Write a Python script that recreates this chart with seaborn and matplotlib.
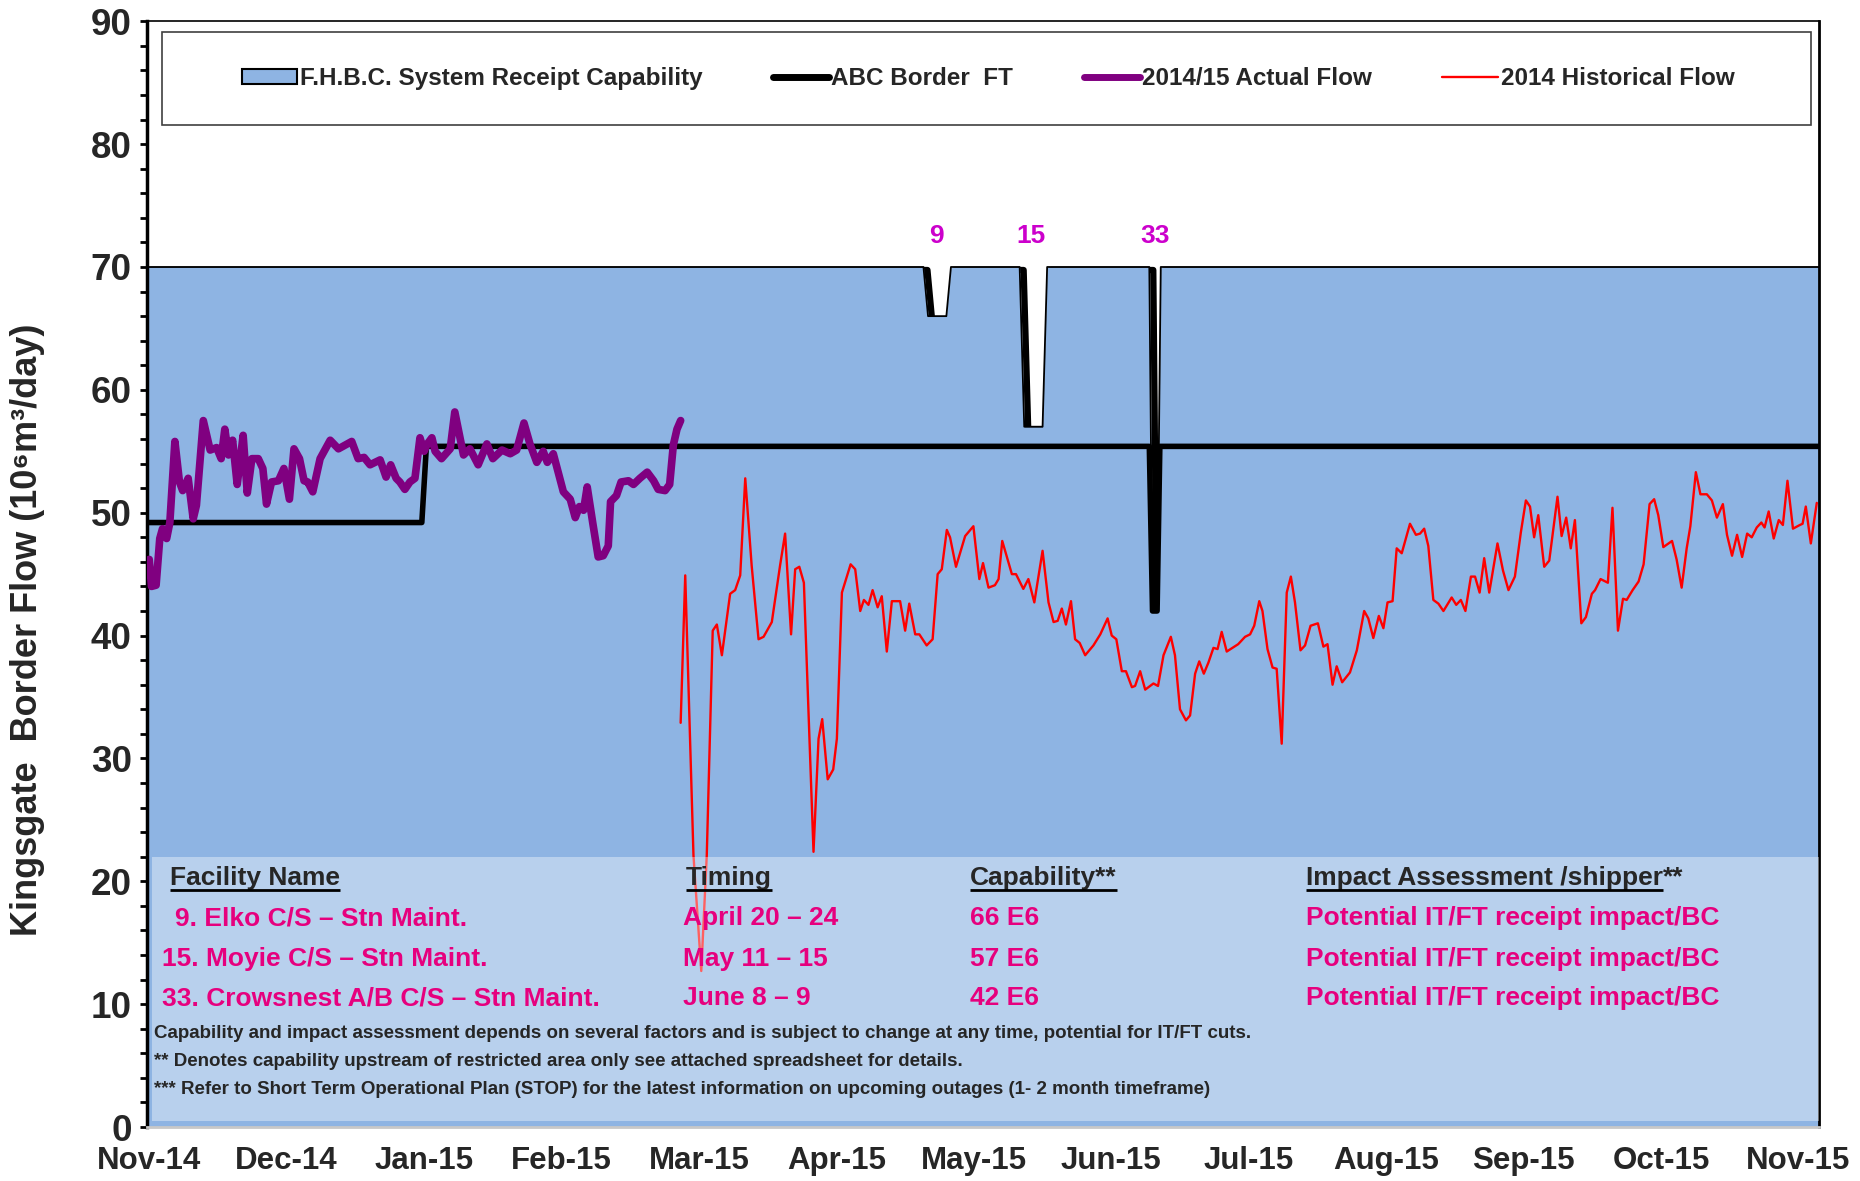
import matplotlib
matplotlib.use('Agg')
import matplotlib.pyplot as plt
from matplotlib.lines import Line2D
from matplotlib.patches import Patch, Rectangle
from matplotlib.transforms import offset_copy
import seaborn as sns

# x axis = days since 1 Nov 2014, tick every 30 days
tick_days = [0, 30, 60, 90, 120, 150, 180, 210, 240, 270, 300, 330, 360]
month_labels = ['Nov-14', 'Dec-14', 'Jan-15', 'Feb-15', 'Mar-15', 'Apr-15', 'May-15',
                'Jun-15', 'Jul-15', 'Aug-15', 'Sep-15', 'Oct-15', 'Nov-15']

# F.H.B.C. system receipt capability (70 with outage dips 9, 15, 33)
cap_days = [-0.5, 169, 170, 174, 175, 190, 191, 195, 196, 218.3, 219, 220, 220.8, 364.5]
cap_values = [70, 70, 66, 66, 70, 70, 57, 57, 70, 70, 42, 42, 70, 70]

# ABC Border FT
ft_days = [-0.5, 59.5, 60.5, 218.3, 219.0, 220.0, 220.6, 364.5]
ft_values = [49.2, 49.2, 55.4, 55.4, 42.0, 42.0, 55.4, 55.4]

# 2014/15 actual flow
actual_days = [0, 0.5, 1.5, 2.3, 2.9, 3.8, 4.5, 5.6, 6.6, 7.3, 8.5, 9.6, 10.3, 11.8, 13.3,
               14.7, 15.7, 16.5, 17.3, 18.2, 19.2, 19.8, 20.5, 21.4, 22.4, 23.8, 24.8, 25.6,
               26.7, 28.2, 29.4, 30.6, 31.6, 32.8, 33.8, 34.6, 35.7, 37.3, 39.5, 41.3, 44.2,
               45.6, 46.9, 48.2, 50.4, 51.7, 52.7, 53.9, 54.7, 55.8, 56.9, 58.0, 59.1, 60.0,
               60.7, 61.7, 62.4, 63.8, 65.7, 66.7, 68.6, 70.0, 71.8, 73.7, 75.0, 77.0, 78.8,
               80.2, 81.8, 83.1, 84.6, 86.0, 86.9, 88.2, 90.4, 91.9, 93.0, 93.9, 94.8, 95.6,
               96.8, 98.0, 99.1, 100.2, 100.7, 102.0, 103.0, 104.6, 105.7, 107.1, 108.7,
               110.1, 111.1, 112.6, 113.6, 114.4, 115.2, 116.0]
actual_flow = [46.2, 44.0, 44.1, 47.9, 48.7, 47.9, 49.2, 55.8, 52.5, 51.8, 52.8, 49.5, 50.6,
               57.5, 55.1, 55.3, 54.4, 56.8, 54.7, 55.9, 52.3, 54.1, 56.3, 51.6, 54.4, 54.4,
               53.6, 50.7, 52.5, 52.6, 53.6, 51.1, 55.2, 54.4, 52.6, 52.5, 51.7, 54.4, 55.9,
               55.2, 55.8, 54.4, 54.5, 53.9, 54.3, 52.9, 53.9, 52.8, 52.5, 51.9, 52.5, 52.8,
               56.1, 55.0, 55.6, 56.1, 55.0, 54.4, 55.2, 58.2, 54.7, 55.2, 53.9, 55.6, 54.4,
               55.1, 54.8, 55.1, 57.3, 55.6, 54.1, 55.0, 54.1, 54.8, 51.7, 51.1, 49.6, 50.5,
               50.2, 52.1, 49.2, 46.4, 46.5, 47.3, 50.9, 51.4, 52.5, 52.6, 52.3, 52.8, 53.3,
               52.6, 51.9, 51.8, 52.3, 55.5, 56.8, 57.5]

# 2014 historical flow
hist_days = [116.0, 117.0, 118.8, 120.5, 121.7, 123.0, 123.9, 125.0, 126.8, 127.9, 129.0,
             130.1, 131.5, 133.0, 134.1, 135.9, 137.7, 138.8, 140.1, 141.0, 141.9, 142.9,
             144.0, 145.0, 146.1, 146.9, 148.1, 149.3, 150.1, 151.2, 153.1, 154.1, 155.2,
             156.0, 157.0, 157.9, 159.0, 159.9, 161.0, 162.1, 163.9, 165.0, 165.9, 167.2,
             168.1, 169.7, 171.0, 172.1, 173.0, 174.1, 174.8, 176.1, 178.1, 179.9, 181.2,
             182.0, 183.2, 184.6, 185.4, 186.2, 188.3, 189.2, 190.8, 191.9, 193.2, 195.0,
             196.3, 197.4, 198.3, 199.2, 200.1, 201.2, 202.1, 203.1, 204.3, 206.1, 207.6,
             209.2, 210.1, 211.1, 212.3, 213.2, 214.5, 215.2, 216.3, 217.4, 219.2, 220.2,
             221.4, 223.0, 223.9, 225.0, 226.3, 227.2, 228.3, 229.2, 230.2, 231.2, 232.3,
             233.2, 234.1, 235.2, 237.7, 239.2, 240.3, 241.2, 242.3, 243.0, 244.1, 245.2,
             246.1, 247.2, 248.3, 249.2, 250.1, 251.3, 252.3, 253.5, 255.1, 256.3, 257.2,
             258.3, 259.2, 260.4, 262.1, 263.6, 265.2, 266.1, 267.2, 268.4, 269.4, 270.3,
             271.4, 272.3, 273.4, 275.2, 276.5, 277.4, 278.3, 279.2, 280.3, 281.4, 282.5,
             284.3, 285.3, 286.3, 287.3, 288.5, 289.4, 290.4, 291.4, 292.5, 294.3, 295.5,
             296.7, 298.1, 299.4, 300.5, 301.4, 302.3, 303.2, 304.5, 305.6, 307.4, 308.3,
             309.3, 310.3, 311.2, 312.6, 313.6, 314.9, 315.6, 316.8, 318.4, 319.4, 320.6,
             321.7, 322.5, 323.8, 325.1, 326.2, 327.5, 328.5, 329.4, 330.5, 332.4, 333.4,
             334.5, 335.6, 336.4, 337.6, 338.6, 340.0, 341.1, 342.2, 343.5, 344.4, 345.5,
             346.6, 347.7, 348.8, 349.8, 350.9, 351.9, 352.6, 353.5, 354.6, 355.7, 356.6,
             357.6, 358.8, 360.3, 360.9, 361.6, 362.7, 364.0]
hist_flow = [32.9, 44.9, 22.1, 12.7, 22.1, 40.4, 40.9, 38.4, 43.4, 43.7, 44.9, 52.8, 45.7,
             39.7, 39.9, 41.1, 45.7, 48.3, 40.1, 45.4, 45.6, 44.3, 32.9, 22.4, 31.6, 33.2,
             28.3, 29.1, 31.6, 43.5, 45.8, 45.4, 42.0, 42.9, 42.5, 43.7, 42.3, 43.2, 38.7,
             42.8, 42.8, 40.4, 42.6, 40.1, 40.1, 39.2, 39.7, 45.0, 45.4, 48.6, 48.0, 45.6,
             48.1, 48.9, 44.6, 45.9, 43.9, 44.1, 44.6, 47.7, 45.0, 45.0, 43.8, 44.6, 42.7,
             46.9, 42.7, 41.1, 41.2, 42.2, 40.9, 42.8, 39.7, 39.4, 38.4, 39.2, 40.1, 41.4,
             40.0, 39.7, 37.1, 37.1, 35.8, 35.9, 37.1, 35.6, 36.1, 35.9, 38.4, 39.9, 38.4,
             34.0, 33.1, 33.5, 36.9, 37.9, 36.9, 37.8, 39.0, 38.9, 40.3, 38.7, 39.3, 39.9,
             40.1, 40.8, 42.8, 42.0, 38.9, 37.4, 37.3, 31.2, 43.5, 44.8, 42.7, 38.8, 39.2,
             40.8, 41.0, 39.1, 39.3, 36.0, 37.5, 36.2, 37.0, 38.8, 42.0, 41.4, 39.8, 41.6,
             40.6, 42.7, 42.8, 47.1, 46.7, 49.1, 48.2, 48.3, 48.7, 47.3, 42.9, 42.6, 42.0,
             43.1, 42.5, 42.9, 42.0, 44.8, 44.8, 43.5, 46.3, 43.5, 47.5, 45.3, 43.7, 44.8,
             48.4, 51.0, 50.5, 48.0, 49.8, 45.6, 46.1, 51.3, 48.1, 49.6, 47.1, 49.4, 41.0,
             41.5, 43.4, 43.7, 44.6, 44.3, 50.4, 40.4, 43.0, 42.9, 43.7, 44.4, 45.8, 50.7,
             51.1, 49.8, 47.2, 47.7, 46.2, 43.9, 47.1, 48.9, 53.3, 51.5, 51.5, 51.0, 49.6,
             50.7, 48.2, 46.5, 48.2, 46.4, 48.3, 48.0, 48.8, 49.2, 48.8, 50.1, 47.9, 49.4,
             49.0, 52.6, 48.7, 49.0, 49.1, 50.5, 47.5, 50.8]

# outage table
outage_ids = ['9', '15', '33']
outage_label_days = [171.9, 192.4, 219.6]
facility_names = ['9. Elko C/S \u2013 Stn Maint.', '15. Moyie C/S \u2013 Stn Maint.',
                  '33. Crowsnest A/B C/S \u2013 Stn Maint.']
timings = ['April 20 \u2013 24', 'May 11 \u2013 15', 'June 8 \u2013 9']
capabilities = ['66 E6', '57 E6', '42 E6']
impacts = ['Potential IT/FT receipt impact/BC'] * 3
footnotes = ['Capability and impact assessment depends on several factors and is subject to '
             'change at any time, potential for IT/FT cuts.',
             '** Denotes capability upstream of restricted area only see attached spreadsheet '
             'for details.',
             '*** Refer to Short Term Operational Plan (STOP) for the latest information on '
             'upcoming outages (1- 2 month timeframe)']

BLUE = '#8EB4E3'
PINK = '#E6007E'
LABEL_PURPLE = '#CC00CC'

sns.set_theme(style='white')
plt.rcParams['font.family'] = ['Liberation Sans', 'DejaVu Sans']
plt.rcParams['font.weight'] = 'bold'

fig, ax = plt.subplots(figsize=(18.6, 11.81), dpi=100)
fig.subplots_adjust(left=0.079, right=0.978, top=0.982, bottom=0.0457)

# capability area with a shadow line on the left walls of the dips
sns.lineplot(x=cap_days, y=cap_values, color='black', linewidth=4.5, ax=ax, zorder=0.8)
ax.lines[-1].set_transform(offset_copy(ax.transData, fig=fig, x=4, y=-3, units='dots'))
ax.fill_between(cap_days, 0, cap_values, color=BLUE, linewidth=0, zorder=1)
sns.lineplot(x=cap_days, y=cap_values, color='black', linewidth=1.3, ax=ax, zorder=1.2)

sns.lineplot(x=hist_days, y=hist_flow, color='red', linewidth=1.7, ax=ax, zorder=2.2)
sns.lineplot(x=ft_days, y=ft_values, color='black', linewidth=4, ax=ax, zorder=2.4)
sns.lineplot(x=actual_days, y=actual_flow, color='#800080', linewidth=5.5, ax=ax, zorder=2.6,
             solid_joinstyle='round', solid_capstyle='round')

ax.set_xlim(-0.5, 364.5)
ax.set_ylim(0, 90)

# translucent table box
ax.add_patch(Rectangle((0.6, 0.5), 363.9, 21.5, facecolor='white', alpha=0.38,
                       linewidth=0, zorder=3))

head_fs = 19
hdr_y = 20.3
row_y = [17.0, 13.7, 10.5]
t_fac = ax.text(4.5, hdr_y, 'Facility Name', fontsize=head_fs, va='center', zorder=4)
t_tim = ax.text(117.1, hdr_y, 'Timing', fontsize=head_fs, va='center', zorder=4)
t_cap = ax.text(179.2, hdr_y, 'Capability**', fontsize=head_fs, va='center', zorder=4)
t_imp = ax.text(252.6, hdr_y, 'Impact Assessment /shipper', fontsize=head_fs,
                va='center', zorder=4)
ax.annotate('**', xy=(1, 1), xycoords=t_imp, va='top', ha='left', fontsize=head_fs,
            zorder=4)

fac_x = [5.7, 2.7, 2.7]
for i in range(3):
    ax.text(fac_x[i], row_y[i], facility_names[i], color=PINK, fontsize=head_fs,
            va='center', zorder=4)
    ax.text(116.5, row_y[i], timings[i], color=PINK, fontsize=head_fs, va='center', zorder=4)
    ax.text(179.2, row_y[i], capabilities[i], color=PINK, fontsize=head_fs, va='center',
            zorder=4)
    ax.text(252.6, row_y[i], impacts[i], color=PINK, fontsize=head_fs, va='center', zorder=4)

for y, note in zip([7.62, 5.31, 3.06], footnotes):
    ax.text(1.1, y, note, fontsize=13.5, va='center', zorder=4)

for d, lab in zip(outage_label_days, outage_ids):
    ax.text(d, 72.5, lab, color=LABEL_PURPLE, fontsize=19, ha='center', va='center',
            zorder=4)

# underline the table headers
fig.canvas.draw()
inv = ax.transData.inverted()
for t in [t_fac, t_tim, t_cap, t_imp]:
    bb = t.get_window_extent()
    x0 = inv.transform((bb.x0, bb.y0))[0]
    x1 = inv.transform((bb.x1, bb.y0))[0]
    ax.plot([x0, x1], [19.3, 19.3], color='black', linewidth=2, zorder=4,
            solid_capstyle='butt')

# legend box
ax.add_patch(Rectangle((0.009, 0.906), 0.986, 0.084, transform=ax.transAxes,
                       facecolor='white', edgecolor='#404040', linewidth=1.2, zorder=5))
handles = [Patch(facecolor=BLUE, edgecolor='black', linewidth=1.5),
           Line2D([], [], color='black', linewidth=5, solid_capstyle='round'),
           Line2D([], [], color='#800080', linewidth=5, solid_capstyle='round'),
           Line2D([], [], color='red', linewidth=1.7)]
labels = ['F.H.B.C. System Receipt Capability', 'ABC Border  FT', '2014/15 Actual Flow',
          '2014 Historical Flow']
leg = ax.legend(handles, labels, loc='center', bbox_to_anchor=(0.503, 0.948), ncol=4,
                frameon=False, fontsize=17.5, handlelength=2.3, handletextpad=0.1,
                columnspacing=2.9, handleheight=0.6)
leg.set_zorder(6)

# axes styling
ax.set_xticks(tick_days)
ax.set_xticklabels(month_labels, fontsize=22.5, fontweight='bold')
ax.tick_params(axis='x', which='major', direction='in', length=6, width=2,
               color='#EAEAEA', bottom=True, pad=14)
ax.set_yticks(range(0, 91, 10))
ax.set_yticks(range(0, 91, 2), minor=True)
ax.tick_params(axis='y', which='both', direction='out', length=5, width=2, color='black',
               left=True, pad=6, labelsize=26.5)
for lab in ax.get_yticklabels():
    lab.set_fontweight('bold')

for side in ['left', 'right', 'top', 'bottom']:
    ax.spines[side].set_visible(True)
ax.spines['left'].set_color('black')
ax.spines['left'].set_linewidth(2.5)
ax.spines['right'].set_color('black')
ax.spines['right'].set_linewidth(2)
ax.spines['top'].set_color('black')
ax.spines['top'].set_linewidth(1.2)
ax.spines['bottom'].set_color('#C8C8C8')
ax.spines['bottom'].set_linewidth(2)

ax.set_xlabel('')
ax.set_ylabel('Kingsgate  Border Flow (10\u2076m\u00b3/day)', fontsize=26, fontweight='bold')
ax.yaxis.set_label_coords(-0.061, 0.45)

fig.savefig('out.png', dpi=100, facecolor='white')
